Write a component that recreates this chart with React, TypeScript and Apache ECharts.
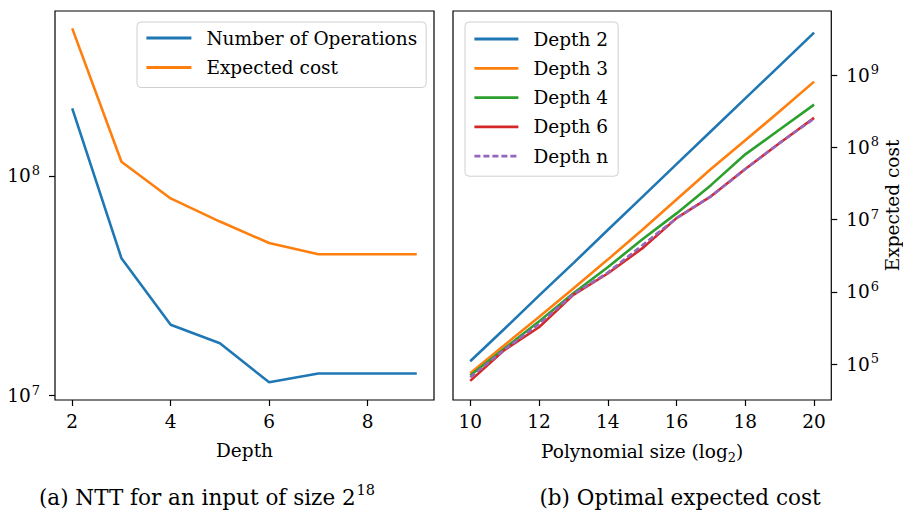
import React, { useEffect, useRef } from 'react';
import * as echarts from 'echarts';

// ---- Panel (a): NTT for an input of size 2^18 ----
const depthLevels = [2, 3, 4, 5, 6, 7, 8, 9];
const numOperations = [2.03e8, 4.22e7, 2.1e7, 1.73e7, 1.15e7, 1.26e7, 1.26e7, 1.26e7];
const expectedCostByDepth = [4.7e8, 1.16e8, 7.9e7, 6.2e7, 4.95e7, 4.4e7, 4.4e7, 4.4e7];
const leftXTicks = [2, 4, 6, 8];
const leftYTicks = [1e7, 1e8];

// ---- Panel (b): Optimal expected cost ----
const polySizes = [10, 11, 12, 13, 14, 15, 16, 17, 18, 19, 20];
const depth2 = [1.1e5, 3.1e5, 8.9e5, 2.5e6, 7.2e6, 2.05e7, 5.85e7, 1.67e8, 4.75e8, 1.35e9, 3.85e9];
const depth3 = [7.5e4, 1.85e5, 4.5e5, 1.12e6, 2.8e6, 7.2e6, 1.9e7, 5.0e7, 1.25e8, 3.15e8, 8.1e8];
const depth4 = [7.0e4, 1.66e5, 3.9e5, 9.6e5, 2.2e6, 5.3e6, 1.22e7, 3.0e7, 8.0e7, 1.76e8, 3.9e8];
const depth6 = [5.9e4, 1.58e5, 3.25e5, 9.1e5, 1.8e6, 4.0e6, 1.05e7, 2.1e7, 5.0e7, 1.15e8, 2.55e8];
const depthN = [6.6e4, 1.6e5, 3.6e5, 9.3e5, 1.85e6, 4.4e6, 1.05e7, 2.1e7, 5.0e7, 1.15e8, 2.5e8];
const rightXTicks = [10, 12, 14, 16, 18, 20];
const rightYTicks = [1e5, 1e6, 1e7, 1e8, 1e9];

const FONT = 'DejaVu Serif';
const FS = 18.5;
const CAP_FS = 21.5;
const COLORS = ['#1f77b4', '#ff7f0e', '#2ca02c', '#d62728', '#9467bd'];

const zip = (xs: number[], ys: number[]) => xs.map((x, i) => [x, ys[i]]);

const richSup = {
  b: { fontFamily: FONT, fontSize: FS, color: '#000', lineHeight: 24 },
  s: { fontFamily: FONT, fontSize: 13, color: '#000', verticalAlign: 'top', lineHeight: 24, padding: [0, 0, 0, 1] },
};

const powLabel = (v: number) => '{b|10}{s|' + Math.round(Math.log10(v)) + '}';

export default function App() {
  const ref = useRef<HTMLDivElement>(null);
  useEffect(() => {
    if (!ref.current) return;
    const chart = echarts.init(ref.current, undefined, { renderer: 'svg' });
    const axisLine = { show: false };
    const tick = { show: true, length: 6, lineStyle: { color: '#000', width: 1.2 } };
    const lineSeries = (name: string, x: number, y: number, data: number[][], color: string, dashed = false) => ({
      type: 'line',
      name,
      xAxisIndex: x,
      yAxisIndex: y,
      data,
      symbol: 'none',
      showSymbol: false,
      lineStyle: { color, width: 2.6, type: dashed ? [6, 3] : 'solid' },
      itemStyle: { color },
      z: 3,
    });
    const legendBase = {
      orient: 'vertical',
      itemWidth: 45,
      itemHeight: 14,
      itemGap: 9.5,
      itemStyle: { opacity: 0 },
      lineStyle: { width: 2.8 },
      backgroundColor: 'rgba(255,255,255,0.8)',
      borderColor: '#d0d0d0',
      borderWidth: 1,
      borderRadius: 4,
      textStyle: { fontFamily: FONT, fontSize: FS, color: '#000', lineHeight: 20, padding: [0, 0, 0, 10] },
    };
    chart.setOption({
      animation: false,
      backgroundColor: '#fff',
      grid: [
        { left: 55, top: 11, width: 379, height: 389, show: true, borderColor: '#000', borderWidth: 1.2, backgroundColor: 'transparent' },
        { left: 453, top: 11, width: 379, height: 389, show: true, borderColor: '#000', borderWidth: 1.2, backgroundColor: 'transparent' },
      ],
      xAxis: [
        {
          type: 'value', gridIndex: 0, min: 1.65, max: 9.35,
          axisLine, splitLine: { show: false },
          axisTick: { ...tick, customValues: leftXTicks },
          axisLabel: { customValues: leftXTicks, fontFamily: FONT, fontSize: FS, color: '#000', margin: 12 },
          name: 'Depth', nameLocation: 'middle', nameGap: 41,
          nameTextStyle: { fontFamily: FONT, fontSize: FS, color: '#000' },
        },
        {
          type: 'value', gridIndex: 1, min: 9.5, max: 20.5,
          axisLine, splitLine: { show: false },
          axisTick: { ...tick, customValues: rightXTicks },
          axisLabel: { customValues: rightXTicks, fontFamily: FONT, fontSize: FS, color: '#000', margin: 12 },
          name: 'Polynomial size (log{sub|2})', nameLocation: 'middle', nameGap: 38,
          nameTextStyle: {
            fontFamily: FONT, fontSize: FS, color: '#000',
            rich: { sub: { fontFamily: FONT, fontSize: 13, color: '#000', verticalAlign: 'bottom', lineHeight: 26 } },
          },
        },
      ],
      yAxis: [
        {
          type: 'log', gridIndex: 0, logBase: 10,
          min: Math.pow(10, 6.98), max: Math.pow(10, 8.751),
          axisLine, splitLine: { show: false }, minorTick: { show: false },
          axisTick: { ...tick, customValues: leftYTicks },
          axisLabel: { customValues: leftYTicks, formatter: powLabel, rich: richSup, margin: 15 },
        },
        {
          type: 'log', gridIndex: 1, logBase: 10, position: 'right',
          min: Math.pow(10, 4.506), max: Math.pow(10, 9.885),
          axisLine, splitLine: { show: false }, minorTick: { show: false },
          axisTick: { ...tick, customValues: rightYTicks },
          axisLabel: { customValues: rightYTicks, formatter: powLabel, rich: richSup, margin: 15 },
          name: 'Expected cost', nameLocation: 'middle', nameRotate: 90, nameGap: 49,
          nameTextStyle: { fontFamily: FONT, fontSize: FS, color: '#000' },
        },
      ],
      legend: [
        {
          ...legendBase,
          left: 137, top: 22, width: 286,
          padding: [6, 9, 10, 8],
          data: ['Number of Operations', 'Expected cost'],
        },
        {
          ...legendBase,
          left: 465, top: 22,
          padding: [7, 10, 10, 8],
          itemWidth: 44,
          itemGap: 9.3,
          data: ['Depth 2', 'Depth 3', 'Depth 4', 'Depth 6', 'Depth n'],
        },
      ],
      series: [
        lineSeries('Number of Operations', 0, 0, zip(depthLevels, numOperations), COLORS[0]),
        lineSeries('Expected cost', 0, 0, zip(depthLevels, expectedCostByDepth), COLORS[1]),
        lineSeries('Depth 2', 1, 1, zip(polySizes, depth2), COLORS[0]),
        lineSeries('Depth 3', 1, 1, zip(polySizes, depth3), COLORS[1]),
        lineSeries('Depth 4', 1, 1, zip(polySizes, depth4), COLORS[2]),
        lineSeries('Depth 6', 1, 1, zip(polySizes, depth6), COLORS[3]),
        lineSeries('Depth n', 1, 1, zip(polySizes, depthN), COLORS[4], true),
      ],
      graphic: [
        {
          type: 'text', x: 207, y: 497,
          style: {
            text: '(a) NTT for an input of size 2{s|18}',
            fontFamily: FONT, fontSize: CAP_FS, fill: '#000', align: 'center', verticalAlign: 'middle',
            rich: {
              s: { fontFamily: FONT, fontSize: 14.5, fill: '#000', verticalAlign: 'top', lineHeight: 30, padding: [0, 0, 0, 1] },
            },
          },
        },
        {
          type: 'text', x: 680, y: 497,
          style: {
            text: '(b) Optimal expected cost',
            fontFamily: FONT, fontSize: CAP_FS, fill: '#000', align: 'center', verticalAlign: 'middle',
          },
        },
      ],
    });
    return () => chart.dispose();
  }, []);
  return <div ref={ref} style={{ position: 'absolute', left: 0, top: 0, width: 903, height: 510 }} />;
}
